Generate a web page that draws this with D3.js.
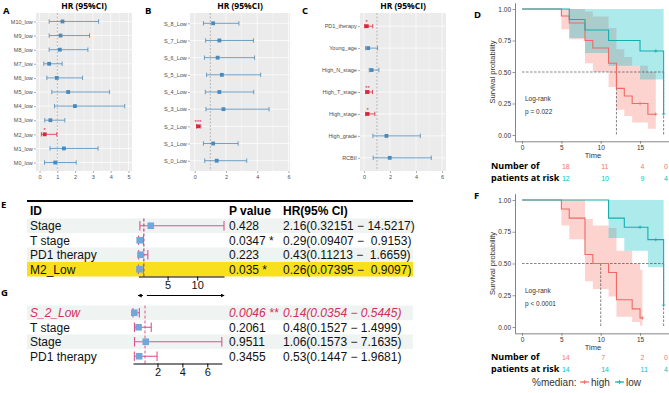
<!DOCTYPE html>
<html>
<head>
<meta charset="utf-8">
<script src="https://cdn.jsdelivr.net/npm/d3@7"></script>
<style>
  body { margin: 0; background: #fff; }
  svg { display: block; font-family: "Liberation Sans", Arial, sans-serif; }
</style>
</head>
<body>
<div id="fig"></div>
<script>
// ---------- panel A : univariate HR, M cell states ----------
const aLabels = ["M10_low", "M9_low", "M8_low", "M7_low", "M6_low", "M5_low", "M4_low", "M3_low", "M2_low", "M1_low", "M0_low"];
const aHR   = [1.29, 1.18, 1.14, 0.54, 0.97, 1.61, 1.99, 0.61, 0.29, 1.37, 0.88];
const aLow  = [0.54, 0.54, 0.54, 0.24, 0.41, 0.69, 0.84, 0.29, 0.10, 0.59, 0.28];
const aHigh = [3.32, 2.81, 2.72, 1.27, 2.42, 3.94, 4.79, 1.42, 0.97, 3.29, 2.06];
const aSig  = ["", "", "", "", "", "", "", "", "*", "", ""];
const aTicks = [0, 1, 2, 3, 4, 5];

// ---------- panel B : S cell states ----------
const bLabels = ["S_8_Low", "S_7_Low", "S_6_Low", "S_5_Low", "S_4_Low", "S_3_Low", "S_2_Low", "S_1_Low", "S_0_Low"];
const bHR   = [1.18, 1.58, 1.47, 1.74, 1.58, 1.84, 0.22, 1.18, 1.41];
const bLow  = [0.56, 0.70, 0.62, 0.76, 0.68, 0.72, 0.12, 0.56, 0.64];
const bHigh = [2.83, 3.76, 3.83, 4.22, 3.78, 4.76, 0.39, 2.78, 3.33];
const bSig  = ["", "", "", "", "", "", "***", "", ""];
const bTicks = [0, 2, 4, 6];

// ---------- panel C : clinical ----------
const cLabels = ["PD1_therapy", "Young_age", "High_N_stage", "High_T_stage", "High_stage", "High_grade", "RCBII"];
const cHR   = [0.22, 0.33, 0.59, 0.28, 0.28, 1.73, 1.98];
const cLow  = [0.05, 0.13, 0.41, 0.13, 0.13, 0.69, 0.71];
const cHigh = [0.68, 1.05, 1.15, 0.66, 0.84, 4.33, 5.17];
const cSig  = ["*", "", "", "**", "*", "", ""];
const cTicks = [0, 2, 4, 6];

// ---------- panel E : multivariate table ----------
const eIds    = ["Stage", "T stage", "PD1 therapy", "M2_Low"];
const ePvals  = ["0.428", "0.0347 *", "0.223", "0.035 *"];
const eHR     = [2.16, 0.29, 0.43, 0.26];
const eLow    = [0.32151, 0.09407, 0.11213, 0.07395];
const eHigh   = [14.5217, 0.9153, 1.6659, 0.9097];
const eHRText = ["2.16(0.32151 \u2212 14.5217)", "0.29(0.09407 \u2212  0.9153)", "0.43(0.11213 \u2212  1.6659)", "0.26(0.07395 \u2212  0.9097)"];
const eTicks  = [5, 10];

// ---------- panel G ----------
const gIds    = ["S_2_Low", "T stage", "Stage", "PD1 therapy"];
const gPvals  = ["0.0046 **", "0.2061", "0.9511", "0.3455"];
const gHR     = [0.14, 0.48, 1.06, 0.53];
const gLow    = [0.0354, 0.1527, 0.1573, 0.1447];
const gHigh   = [0.5445, 1.4999, 7.1635, 1.9681];
const gHRText = ["0.14(0.0354 \u2212 0.5445)", "0.48(0.1527 \u2212 1.4999)", "1.06(0.1573 \u2212 7.1635)", "0.53(0.1447 \u2212 1.9681)"];
const gTicks  = [2, 4, 6];

// ---------- panel D : KM, M2 ----------
const dHighT  = [0, 5, 6, 8, 9, 11, 12, 13, 14, 16];
const dHighS  = [1, 0.944, 0.889, 0.75, 0.69, 0.57, 0.37, 0.31, 0.25, 0.165];
const dHighLo = [1, 0.84, 0.76, 0.57, 0.50, 0.38, 0.20, 0.15, 0.10, 0.05];
const dHighHi = [1, 1, 1, 0.98, 0.94, 0.85, 0.68, 0.62, 0.55, 0.50];
const dHighCens = [15, 17];
const dLowT  = [0, 6, 8, 11, 15, 18];
const dLowS  = [1, 0.917, 0.833, 0.75, 0.667, 0.167];
const dLowLo = [1, 0.77, 0.65, 0.55, 0.44, 0.03];
const dLowHi = [1, 1, 1, 1, 1, 0.9];
const dLowCens = [17, 18];
const dRiskHigh = [18, 11, 4, 0];
const dRiskLow  = [12, 10, 9, 4];

// ---------- panel F : KM, S_2 ----------
const fHighT  = [0, 5, 6, 8, 9, 11, 12, 14, 15];
const fHighS  = [1, 0.929, 0.857, 0.571, 0.5, 0.429, 0.214, 0.143, 0.071];
const fHighLo = [1, 0.80, 0.69, 0.36, 0.30, 0.24, 0.08, 0.04, 0.01];
const fHighHi = [1, 1, 1, 0.85, 0.80, 0.78, 0.60, 0.50, 0.45];
const fHighCens = [15.3];
const fLowT  = [0, 11, 13, 16, 18];
const fLowS  = [1, 0.857, 0.786, 0.688, 0.172];
const fLowLo = [1, 0.70, 0.60, 0.47, 0.03];
const fLowHi = [1, 1, 1, 1, 0.95];
const fLowCens = [15, 17, 18];
const fRiskHigh = [14, 7, 2, 0];
const fRiskLow  = [14, 14, 11, 4];

const riskTimes = [5, 10, 15, 18];
const kmTicksX = [0, 5, 10, 15];
const kmTicksY = [0, 0.25, 0.5, 0.75, 1];

// ---------- drawing ----------
const svg = d3.select("#fig").append("svg").attr("width", 669).attr("height", 393);

const fRed = "#D7263D", fBlue = "#4A89B9";
const kmRed = "#EE6A63", kmTeal = "#14AEB0";
const kmRedFill = "#F8766D", kmTealFill = "#00BFC4";
const ciPink = "#E0528C", sqBlue = "#6FA8DC";

function forestPanel(o) {
    const g = svg.append("g");
    const x = d3.scaleLinear().domain(o.domain).range([o.left, o.right]);
    const y = d3.scalePoint().domain(o.labels).range([o.top, o.bottom]).padding(0.6);

    g.append("rect")
        .attr("x", o.left).attr("y", o.top)
        .attr("width", o.right - o.left).attr("height", o.bottom - o.top)
        .attr("fill", "#EBEBEB");

    let step = o.ticks[1] - o.ticks[0];
    let minor = d3.range(o.ticks[0] - step / 2, o.domain[1], step).filter(v => v > o.domain[0]);

    g.selectAll(".minor").data(minor).join("line")
        .attr("x1", d => x(d)).attr("x2", d => x(d))
        .attr("y1", o.top).attr("y2", o.bottom)
        .attr("stroke", "#fff").attr("stroke-width", 0.35);
    g.selectAll(".major").data(o.ticks).join("line")
        .attr("x1", d => x(d)).attr("x2", d => x(d))
        .attr("y1", o.top).attr("y2", o.bottom)
        .attr("stroke", "#fff").attr("stroke-width", 0.7);
    g.selectAll(".hrow").data(o.labels).join("line")
        .attr("x1", o.left).attr("x2", o.right)
        .attr("y1", d => y(d)).attr("y2", d => y(d))
        .attr("stroke", "#fff").attr("stroke-width", 0.7);

    // HR = 1
    g.append("line")
        .attr("x1", x(1)).attr("x2", x(1))
        .attr("y1", o.top).attr("y2", o.bottom)
        .attr("stroke", "#8A8A8A").attr("stroke-width", 0.6)
        .attr("stroke-dasharray", "2,1.5");

    let rows = o.labels.map((l, i) => ({label: l, hr: o.hr[i], lo: o.lo[i], hi: o.hi[i], sig: o.sig[i]}));
    let col = d => d.sig ? fRed : fBlue;

    g.selectAll(".ci").data(rows).join("line")
        .attr("x1", d => x(d.lo)).attr("x2", d => x(d.hi))
        .attr("y1", d => y(d.label)).attr("y2", d => y(d.label))
        .attr("stroke", col).attr("stroke-width", 0.8);
    ["lo", "hi"].forEach(k => {
        g.selectAll(".cap" + k).data(rows).join("line")
            .attr("x1", d => x(d[k])).attr("x2", d => x(d[k]))
            .attr("y1", d => y(d.label) - 2.2).attr("y2", d => y(d.label) + 2.2)
            .attr("stroke", col).attr("stroke-width", 0.8);
    });
    g.selectAll(".pt").data(rows).join("rect")
        .attr("x", d => x(d.hr) - 1.9).attr("y", d => y(d.label) - 1.9)
        .attr("width", 3.8).attr("height", 3.8)
        .attr("fill", col);
    g.selectAll(".sig").data(rows.filter(d => d.sig)).join("text")
        .attr("x", d => x(d.hr)).attr("y", d => y(d.label) - 2.2)
        .attr("text-anchor", "middle").attr("font-size", 6)
        .attr("fill", fRed).text(d => d.sig);

    let ay = g.append("g").attr("transform", `translate(${o.left},0)`)
        .call(d3.axisLeft(y).tickSize(2).tickPadding(1.2));
    let ax = g.append("g").attr("transform", `translate(0,${o.bottom})`)
        .call(d3.axisBottom(x).tickValues(o.ticks).tickSize(2).tickPadding(2).tickFormat(d3.format("d")));
    [ay, ax].forEach(a => {
        a.select(".domain").remove();
        a.selectAll("line").attr("stroke", "#333").attr("stroke-width", 0.4);
        a.selectAll("text").attr("font-size", 5.5).attr("fill", "#4D4D4D")
            .attr("font-family", "'Liberation Sans', Arial, sans-serif");
    });

    g.append("text")
        .attr("x", (o.left + o.right) / 2).attr("y", 8.5)
        .attr("text-anchor", "middle").attr("font-weight", "bold")
        .attr("font-size", 8.5).attr("font-family", "'Open Sans', sans-serif")
        .text("HR (95%CI)");
}

forestPanel({labels: aLabels, hr: aHR, lo: aLow, hi: aHigh, sig: aSig, ticks: aTicks,
    domain: [-0.2, 5.2], left: 36, right: 132, top: 13, bottom: 171});
forestPanel({labels: bLabels, hr: bHR, lo: bLow, hi: bHigh, sig: bSig, ticks: bTicks,
    domain: [-0.3, 6.1], left: 190, right: 290, top: 13, bottom: 171});
forestPanel({labels: cLabels, hr: cHR, lo: cLow, hi: cHigh, sig: cSig, ticks: cTicks,
    domain: [-0.3, 6.3], left: 360, right: 446, top: 13, bottom: 171});

// ---------- KM panels ----------
function survAt(T, S, t) {
    let i = d3.bisectRight(T, t) - 1;
    return S[Math.max(i, 0)];
}
function medianOf(T, S) {
    let i = S.findIndex(s => s <= 0.5);
    if (i < 0) return null;
    if (S[i] === 0.5 && i + 1 < T.length) return (T[i] + T[i + 1]) / 2;
    return T[i];
}

function kmPanel(o) {
    const g = svg.append("g");
    const h = o.yZero - o.yOne;
    const x = d3.scaleLinear().domain([-0.9, 18.9]).range([515, 670.7]);
    const y = d3.scaleLinear().domain([-0.05, 1.05]).range([o.yZero + 0.05 * h, o.yOne - 0.05 * h]);

    let groups = [
        {T: o.high.T, S: o.high.S, Lo: o.high.Lo, Hi: o.high.Hi, end: o.high.end, cens: o.high.cens, line: kmRed, fill: kmRedFill},
        {T: o.low.T, S: o.low.S, Lo: o.low.Lo, Hi: o.low.Hi, end: o.low.end, cens: o.low.cens, line: kmTeal, fill: kmTealFill}
    ];
    groups.forEach(gr => {
        gr.pts = gr.T.map((t, i) => ({t: t, s: gr.S[i], lo: gr.Lo[i], hi: gr.Hi[i]}));
        gr.pts.push(Object.assign({}, gr.pts[gr.pts.length - 1], {t: gr.end}));
    });

    groups.forEach(gr => {
        g.append("path").datum(gr.pts)
            .attr("d", d3.area().curve(d3.curveStepAfter)
                .x(d => x(d.t)).y0(d => y(d.lo)).y1(d => y(d.hi)))
            .attr("fill", gr.fill).attr("fill-opacity", 0.32);
    });

    // medians
    let meds = groups.map(gr => medianOf(gr.T, gr.S)).filter(m => m !== null);
    g.append("line")
        .attr("x1", x(0)).attr("x2", x(d3.max(meds)))
        .attr("y1", y(0.5)).attr("y2", y(0.5))
        .attr("stroke", "#333").attr("stroke-width", 0.6).attr("stroke-dasharray", "2.5,1.5");
    g.selectAll(".med").data(meds).join("line")
        .attr("x1", d => x(d)).attr("x2", d => x(d))
        .attr("y1", y(0.5)).attr("y2", y(0))
        .attr("stroke", "#333").attr("stroke-width", 0.6).attr("stroke-dasharray", "2.5,1.5");

    groups.forEach(gr => {
        g.append("path").datum(gr.pts)
            .attr("d", d3.line().curve(d3.curveStepAfter).x(d => x(d.t)).y(d => y(d.s)))
            .attr("fill", "none").attr("stroke", gr.line).attr("stroke-width", 1.1);
        gr.cens.forEach(c => {
            let cx = x(c), cy = y(survAt(gr.T, gr.S, c));
            g.append("path")
                .attr("d", `M${cx - 1.8},${cy}H${cx + 1.8}M${cx},${cy - 1.8}V${cy + 1.8}`)
                .attr("stroke", gr.line).attr("stroke-width", 0.7);
        });
    });

    let ax = g.append("g").attr("transform", `translate(0,${o.yZero + 0.05 * h})`)
        .call(d3.axisBottom(x).tickValues(kmTicksX).tickSize(2.5).tickSizeOuter(0).tickPadding(1.5));
    let ay = g.append("g").attr("transform", "translate(515,0)")
        .call(d3.axisLeft(y).tickValues(kmTicksY).tickFormat(d3.format(".2f")).tickSize(2.5).tickSizeOuter(0).tickPadding(1.5));
    [ax, ay].forEach(a => {
        a.select(".domain").attr("stroke", "#333").attr("stroke-width", 0.6);
        a.selectAll("line").attr("stroke", "#333").attr("stroke-width", 0.5);
        a.selectAll("text").attr("font-size", 6.5).attr("fill", "#333")
            .attr("font-family", "'Liberation Sans', Arial, sans-serif");
    });

    g.append("text")
        .attr("transform", `translate(495,${(o.yZero + o.yOne) / 2}) rotate(-90)`)
        .attr("text-anchor", "middle").attr("font-size", 7.5).attr("fill", "#333")
        .text("Survival probability");
    g.append("text")
        .attr("x", 593).attr("y", o.yZero + 0.05 * h + 17)
        .attr("text-anchor", "middle").attr("font-size", 7.5).attr("fill", "#333")
        .text("Time");

    g.append("text").attr("x", 525).attr("y", o.yZero - 34)
        .attr("font-size", 6.5).attr("fill", "#333").text("Log-rank");
    g.append("text").attr("x", 525).attr("y", o.yZero - 21)
        .attr("font-size", 6.5).attr("fill", "#333").text(o.pText);

    // numbers at risk
    let rY = o.riskY;
    g.append("text").attr("x", 491).attr("y", rY)
        .attr("font-size", 9).attr("font-weight", "bold").attr("font-family", "'Open Sans', sans-serif")
        .text("Number of");
    g.append("text").attr("x", 491).attr("y", rY + 12)
        .attr("font-size", 9).attr("font-weight", "bold").attr("font-family", "'Open Sans', sans-serif")
        .text("patients at risk");
    [[o.riskHigh, kmRedFill, 0], [o.riskLow, kmTealFill, 12]].forEach(([vals, c, dy]) => {
        g.selectAll(null).data(vals).join("text")
            .attr("x", (d, i) => Math.min(x(riskTimes[i]) + 0.5, 664))
            .attr("y", rY + dy)
            .attr("font-size", 7).attr("fill", c)
            .text(d => d);
    });
}

kmPanel({
    yZero: 135, yOne: 9, pText: "p = 0.022", riskY: 168.5,
    high: {T: dHighT, S: dHighS, Lo: dHighLo, Hi: dHighHi, end: 17, cens: dHighCens},
    low: {T: dLowT, S: dLowS, Lo: dLowLo, Hi: dLowHi, end: 18, cens: dLowCens},
    riskHigh: dRiskHigh, riskLow: dRiskLow
});
kmPanel({
    yZero: 327, yOne: 200, pText: "p < 0.0001", riskY: 360,
    high: {T: fHighT, S: fHighS, Lo: fHighLo, Hi: fHighHi, end: 15.3, cens: fHighCens},
    low: {T: fLowT, S: fLowS, Lo: fLowLo, Hi: fLowHi, end: 18, cens: fLowCens},
    riskHigh: fRiskHigh, riskLow: fRiskLow
});

// legend under F
const lg = svg.append("g").attr("font-size", 10).attr("fill", "#333");
lg.append("text").attr("x", 532).attr("y", 385.5).text("%median:");
[["high", kmRed, 580], ["low", kmTeal, 615]].forEach(([lab, c, lx]) => {
    lg.append("line").attr("x1", lx).attr("x2", lx + 9).attr("y1", 382).attr("y2", 382)
        .attr("stroke", c).attr("stroke-width", 1.2);
    lg.append("path").attr("d", `M${lx + 2.5},382H${lx + 6.5}M${lx + 4.5},380V384`)
        .attr("stroke", c).attr("stroke-width", 0.8);
    lg.append("text").attr("x", lx + 11).attr("y", 385.5).text(lab);
});

// ---------- tables E / G ----------
const rowH = 14.5;
svg.append("defs").html(
    '<marker id="arr" viewBox="0 0 6 6" refX="5" refY="3" markerWidth="4" markerHeight="4" orient="auto-start-reverse">' +
    '<path d="M0,0L6,3L0,6z" fill="#000"/></marker>');

function tablePanel(o) {
    const g = svg.append("g");
    const yb = d3.scaleBand().domain(o.ids).range([o.top, o.top + o.ids.length * rowH]);
    const x = d3.scaleLinear().domain([d3.min(o.lo), d3.max(o.hi)]).range(o.xRange);
    let rows = o.ids.map((id, i) => ({id: id, p: o.p[i], hr: o.hr[i], lo: o.lo[i], hi: o.hi[i], txt: o.txt[i], i: i}));

    g.selectAll(".band").data(rows).join("rect")
        .attr("x", 27).attr("width", 386)
        .attr("y", d => yb(d.id)).attr("height", yb.bandwidth())
        .attr("fill", d => d.i === o.highlight ? "#F9E01E" : (d.i % 2 === 0 ? "#EFF3F2" : "#fff"));

    if (o.header) {
        g.append("line").attr("x1", 27).attr("x2", 413).attr("y1", o.top - 17.5).attr("y2", o.top - 17.5)
            .attr("stroke", "#000").attr("stroke-width", 1.8);
        [["ID", 30], ["P value", 229], ["HR(95% CI)", 283]].forEach(([t, hx]) => {
            g.append("text").attr("x", hx).attr("y", o.top - 4)
                .attr("font-size", 12).attr("font-weight", "bold").text(t);
        });
    }

    let txtCol = d => d.i === o.redRow ? "#D42F5A" : "#111";
    let txtStyle = d => d.i === o.redRow ? "italic" : "normal";
    [["id", 30], ["p", 229], ["txt", 283]].forEach(([k, tx]) => {
        g.selectAll(".c" + k).data(rows).join("text")
            .attr("x", tx).attr("y", d => yb(d.id) + yb.bandwidth() / 2 + 4.3)
            .attr("font-size", 12).attr("fill", txtCol).attr("font-style", txtStyle)
            .style("white-space", "pre")
            .text(d => d[k]);
    });

    let yTop = o.top, yBot = o.top + o.ids.length * rowH;
    g.append("line").attr("x1", x(1)).attr("x2", x(1)).attr("y1", yTop).attr("y2", yBot)
        .attr("stroke", o.refColor).attr("stroke-width", 1).attr("stroke-dasharray", "3,2");

    g.selectAll(".ci").data(rows).join("line")
        .attr("x1", d => x(d.lo)).attr("x2", d => x(d.hi))
        .attr("y1", d => yb(d.id) + yb.bandwidth() / 2).attr("y2", d => yb(d.id) + yb.bandwidth() / 2)
        .attr("stroke", ciPink).attr("stroke-width", 1.1);
    ["lo", "hi"].forEach(k => {
        g.selectAll(".cap" + k).data(rows).join("line")
            .attr("x1", d => x(d[k])).attr("x2", d => x(d[k]))
            .attr("y1", d => yb(d.id) + 2.5).attr("y2", d => yb(d.id) + yb.bandwidth() - 2.5)
            .attr("stroke", ciPink).attr("stroke-width", 1.1);
    });
    g.selectAll(".sq").data(rows).join("rect")
        .attr("x", d => x(d.hr) - 3.3).attr("y", d => yb(d.id) + yb.bandwidth() / 2 - 3.3)
        .attr("width", 6.6).attr("height", 6.6).attr("fill", sqBlue);

    let ax = g.append("g").attr("transform", `translate(0,${yBot})`)
        .call(d3.axisBottom(x).tickValues(o.ticks).tickSize(4).tickSizeOuter(0).tickPadding(1).tickFormat(d3.format("d")));
    ax.select(".domain").attr("stroke", "#000").attr("stroke-width", 1);
    ax.selectAll("line").attr("stroke", "#000").attr("stroke-width", 1);
    ax.selectAll("text").attr("font-size", 11).attr("fill", "#111")
        .attr("font-family", "'Liberation Sans', Arial, sans-serif");

    if (o.arrows) {
        let ay = yBot + 19;
        g.append("line").attr("x1", x(1) - 1).attr("x2", o.xRange[0]).attr("y1", ay).attr("y2", ay)
            .attr("stroke", "#000").attr("stroke-width", 1).attr("marker-end", "url(#arr)");
        g.append("line").attr("x1", x(1) + 3).attr("x2", o.xRange[1]).attr("y1", ay).attr("y2", ay)
            .attr("stroke", "#000").attr("stroke-width", 1).attr("marker-end", "url(#arr)");
    }
}

tablePanel({ids: eIds, p: ePvals, hr: eHR, lo: eLow, hi: eHigh, txt: eHRText, ticks: eTicks,
    top: 218.5, xRange: [138.4, 224], header: true, highlight: 3, redRow: -1, arrows: true, refColor: "#9A2E50"});
tablePanel({ids: gIds, p: gPvals, hr: gHR, lo: gLow, hi: gHigh, txt: gHRText, ticks: gTicks,
    top: 305.5, xRange: [133, 221.8], header: false, highlight: -1, redRow: 0, arrows: false, refColor: ciPink});

// ---------- panel letters ----------
const letters = [["A", 3, 14], ["B", 145, 14], ["C", 302, 14], ["D", 474, 18],
                 ["E", 1, 208], ["F", 474, 199], ["G", 1, 296]];
svg.selectAll(".letter").data(letters).join("text")
    .attr("x", d => d[1]).attr("y", d => d[2])
    .attr("font-size", 9.5).attr("font-weight", "bold")
    .attr("font-family", "'Open Sans', sans-serif")
    .text(d => d[0]);
</script>
</body>
</html>
